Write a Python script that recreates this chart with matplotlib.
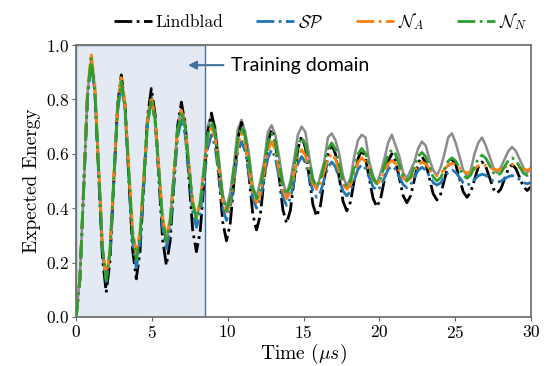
import numpy as np
import matplotlib.pyplot as plt

plt.rcParams["font.family"] = ["cmr10", "DejaVu Serif"]
plt.rcParams["mathtext.fontset"] = "cm"
plt.rcParams["axes.formatter.use_mathtext"] = True

# time axis: 8 samples per oscillation period (~1.98 us)
t = np.linspace(0, 30, 122)

lindblad = [
    0, 0.139, 0.475, 0.811, 0.95, 0.824, 0.52, 0.216,
    0.09, 0.207, 0.49, 0.773, 0.89, 0.78, 0.515, 0.25,
    0.14, 0.242, 0.49, 0.738, 0.84, 0.745, 0.515, 0.285,
    0.19, 0.278, 0.49, 0.702, 0.79, 0.71, 0.515, 0.32,
    0.24, 0.314, 0.495, 0.676, 0.75, 0.681, 0.515, 0.349,
    0.28, 0.344, 0.498, 0.651, 0.715, 0.657, 0.518, 0.378,
    0.32, 0.374, 0.505, 0.636, 0.69, 0.64, 0.518, 0.395,
    0.345, 0.392, 0.505, 0.618, 0.665, 0.622, 0.518, 0.413,
    0.37, 0.409, 0.503, 0.596, 0.635, 0.599, 0.513, 0.426,
    0.39, 0.423, 0.503, 0.582, 0.615, 0.584, 0.51, 0.436,
    0.405, 0.433, 0.503, 0.572, 0.60, 0.574, 0.51, 0.446,
    0.42, 0.445, 0.505, 0.565, 0.59, 0.567, 0.51, 0.453,
    0.43, 0.452, 0.505, 0.558, 0.58, 0.56, 0.51, 0.46,
    0.44, 0.459, 0.505, 0.551, 0.57, 0.553, 0.513, 0.472,
    0.455, 0.47, 0.508, 0.545, 0.56, 0.546, 0.513, 0.479,
    0.465, 0.478,
]

sp = [
    0, 0.137, 0.47, 0.803, 0.94, 0.822, 0.535, 0.248,
    0.13, 0.237, 0.495, 0.753, 0.86, 0.761, 0.52, 0.279,
    0.18, 0.271, 0.49, 0.709, 0.80, 0.72, 0.525, 0.33,
    0.25, 0.32, 0.49, 0.66, 0.73, 0.672, 0.53, 0.388,
    0.33, 0.38, 0.50, 0.62, 0.67, 0.624, 0.513, 0.401,
    0.355, 0.397, 0.50, 0.603, 0.645, 0.609, 0.523, 0.436,
    0.40, 0.431, 0.508, 0.584, 0.615, 0.585, 0.513, 0.44,
    0.41, 0.436, 0.50, 0.564, 0.59, 0.568, 0.515, 0.462,
    0.44, 0.459, 0.505, 0.551, 0.57, 0.552, 0.508, 0.463,
    0.445, 0.462, 0.503, 0.543, 0.56, 0.546, 0.513, 0.479,
    0.465, 0.478, 0.51, 0.542, 0.555, 0.543, 0.515, 0.487,
    0.475, 0.486, 0.513, 0.539, 0.55, 0.541, 0.518, 0.494,
    0.485, 0.493, 0.513, 0.532, 0.54, 0.532, 0.513, 0.493,
    0.485, 0.491, 0.505, 0.519, 0.525, 0.521, 0.51, 0.499,
    0.495, 0.499, 0.508, 0.516, 0.52, 0.516, 0.505, 0.494,
    0.49, 0.494,
]

n_a = [
    0, 0.142, 0.485, 0.828, 0.97, 0.849, 0.555, 0.261,
    0.14, 0.248, 0.51, 0.772, 0.88, 0.785, 0.555, 0.325,
    0.23, 0.315, 0.52, 0.725, 0.81, 0.734, 0.55, 0.366,
    0.29, 0.359, 0.525, 0.691, 0.76, 0.703, 0.565, 0.427,
    0.37, 0.419, 0.538, 0.656, 0.705, 0.658, 0.543, 0.427,
    0.38, 0.423, 0.528, 0.632, 0.675, 0.638, 0.548, 0.457,
    0.42, 0.453, 0.533, 0.612, 0.645, 0.614, 0.54, 0.466,
    0.435, 0.461, 0.525, 0.589, 0.615, 0.594, 0.543, 0.491,
    0.47, 0.489, 0.535, 0.581, 0.60, 0.581, 0.535, 0.489,
    0.47, 0.487, 0.528, 0.568, 0.585, 0.571, 0.538, 0.504,
    0.49, 0.502, 0.533, 0.563, 0.575, 0.564, 0.538, 0.511,
    0.50, 0.51, 0.535, 0.56, 0.57, 0.563, 0.545, 0.527,
    0.52, 0.527, 0.543, 0.558, 0.565, 0.56, 0.548, 0.535,
    0.53, 0.534, 0.545, 0.556, 0.56, 0.557, 0.55, 0.543,
    0.54, 0.543, 0.55, 0.557, 0.56, 0.557, 0.55, 0.543,
    0.54, 0.543,
]

n_n = [
    0, 0.139, 0.475, 0.811, 0.95, 0.831, 0.543, 0.255,
    0.136, 0.242, 0.50, 0.759, 0.865, 0.769, 0.538, 0.306,
    0.21, 0.296, 0.505, 0.714, 0.80, 0.724, 0.54, 0.356,
    0.28, 0.349, 0.518, 0.686, 0.755, 0.697, 0.558, 0.418,
    0.36, 0.413, 0.54, 0.667, 0.72, 0.672, 0.555, 0.438,
    0.39, 0.435, 0.545, 0.655, 0.70, 0.661, 0.568, 0.474,
    0.435, 0.47, 0.555, 0.64, 0.675, 0.642, 0.563, 0.483,
    0.45, 0.481, 0.555, 0.629, 0.66, 0.634, 0.57, 0.506,
    0.48, 0.503, 0.56, 0.617, 0.64, 0.617, 0.56, 0.503,
    0.48, 0.50, 0.55, 0.60, 0.62, 0.601, 0.555, 0.509,
    0.49, 0.508, 0.553, 0.597, 0.615, 0.598, 0.558, 0.517,
    0.50, 0.515, 0.553, 0.59, 0.605, 0.59, 0.553, 0.515,
    0.50, 0.512, 0.543, 0.573, 0.585, 0.574, 0.548, 0.521,
    0.51, 0.522, 0.553, 0.583, 0.595, 0.584, 0.558, 0.531,
    0.52, 0.529, 0.553, 0.576, 0.585, 0.576, 0.553, 0.529,
    0.52, 0.53,
]

# measured (noisy) trace
measured = [
    0, 0.15, 0.47, 0.82, 0.95, 0.83, 0.54, 0.24,
    0.12, 0.24, 0.51, 0.77, 0.88, 0.79, 0.53, 0.30,
    0.20, 0.30, 0.52, 0.73, 0.82, 0.74, 0.55, 0.35,
    0.27, 0.35, 0.53, 0.70, 0.77, 0.72, 0.56, 0.42,
    0.36, 0.43, 0.55, 0.70, 0.745, 0.70, 0.58, 0.45,
    0.40, 0.46, 0.56, 0.69, 0.725, 0.68, 0.60, 0.48,
    0.44, 0.50, 0.57, 0.68, 0.705, 0.67, 0.59, 0.50,
    0.45, 0.50, 0.58, 0.67, 0.70, 0.68, 0.59, 0.51,
    0.47, 0.52, 0.57, 0.66, 0.675, 0.65, 0.60, 0.52,
    0.48, 0.51, 0.59, 0.65, 0.67, 0.66, 0.57, 0.52,
    0.49, 0.53, 0.58, 0.64, 0.67, 0.63, 0.59, 0.53,
    0.51, 0.54, 0.57, 0.62, 0.645, 0.63, 0.58, 0.54,
    0.52, 0.55, 0.60, 0.66, 0.675, 0.64, 0.59, 0.54,
    0.52, 0.54, 0.60, 0.64, 0.66, 0.63, 0.59, 0.55,
    0.53, 0.55, 0.58, 0.61, 0.625, 0.61, 0.58, 0.55,
    0.53, 0.55,
]

train_end = 8.47

fig = plt.figure(figsize=(5.6, 3.66), dpi=100)
ax = fig.add_axes([0.136, 0.134, 0.812, 0.743])

ax.axvspan(0, train_end, facecolor="#e3eaf4", edgecolor="#4a6fa5", lw=1.0, zorder=0)

ax.plot(t, measured, color="#8c8c8c", lw=1.8, zorder=1)
ax.plot(t, lindblad, "-.", color="black", lw=2.0, label="Lindblad", zorder=2)
ax.plot(t, sp, "-.", color="#1f77b4", lw=2.0, label=r"$\mathcal{SP}$", zorder=3)
ax.plot(t, n_a, "-.", color="#ff7f0e", lw=2.0, label=r"$\mathcal{N}_A$", zorder=4)
ax.plot(t, n_n, "-.", color="#2ca02c", lw=2.0, label=r"$\mathcal{N}_N$", zorder=5)

ax.annotate("", xy=(7.2, 0.926), xytext=(9.9, 0.926),
            arrowprops=dict(arrowstyle="-|>", color="#41719c", lw=1.5, mutation_scale=12))
ax.text(10.2, 0.926, "Training domain", fontsize=14, family="Lato",
        va="center", ha="left", color="black")

ax.set_xlim(0, 30)
ax.set_ylim(0, 1)
ax.set_xticks([0, 5, 10, 15, 20, 25, 30])
ax.set_yticks([0.0, 0.2, 0.4, 0.6, 0.8, 1.0])
ax.tick_params(labelsize=12.5, length=3, color="0.4", pad=2)
ax.set_xlabel(r"Time ($\mu s$)", fontsize=14, labelpad=1)
ax.set_ylabel("Expected Energy", fontsize=14, labelpad=3)
for s in ax.spines.values():
    s.set_color("0.45")
    s.set_linewidth(1.3)

fig.legend(loc="center", bbox_to_anchor=(0.572, 0.94), ncol=4, frameon=False,
           fontsize=12.5, handlelength=2.2, handletextpad=0.2, columnspacing=1.9)

fig.savefig("out.png", dpi=100)
